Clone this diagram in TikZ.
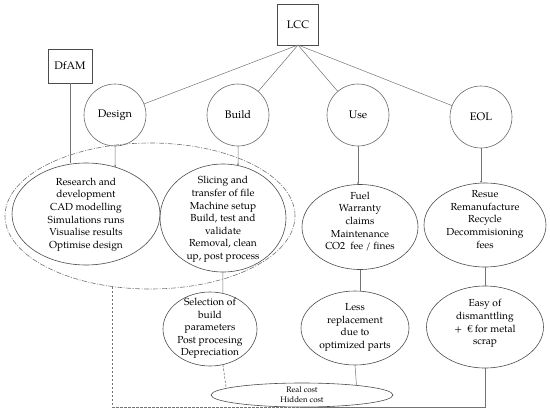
\documentclass[tikz,border=0pt]{standalone}
\usepackage{fontspec}
\setmainfont{TeX Gyre Pagella}
\usetikzlibrary{shapes.geometric,arrows.meta}
\begin{document}
\begin{tikzpicture}[x=1pt,y=-1pt,
  every node/.style={inner sep=0pt, outer sep=0pt},
  txt/.style={font=\fontsize{10.2}{12.6}\selectfont, align=center, text=black},
  box/.style={draw=black!70, line width=0.6pt, rectangle, font=\fontsize{11}{13}\selectfont},
  circ/.style={draw=black!60, line width=0.6pt, circle, minimum size=62pt, font=\fontsize{11}{13}\selectfont},
  ell/.style={draw=black!70, line width=0.6pt, ellipse},
  conn/.style={draw=black!55, line width=0.5pt},
  arr/.style={conn, -{Stealth[length=2.2pt,width=2pt]}},
  dashconn/.style={draw=black!55, line width=0.6pt, dash pattern=on 2.5pt off 1.5pt},
  dashdotconn/.style={draw=black!55, line width=0.6pt, dash pattern=on 5pt off 1.5pt on 1pt off 1.5pt},
]
\useasboundingbox (0,0) rectangle (550,413);
% top boxes
\node[box, minimum width=41pt, minimum height=41pt] (lcc) at (298,24.5) {LCC};
\node[box, minimum width=44pt, minimum height=34pt] (dfam) at (70,66) {DfAM};
% circles
\node[circ] (design) at (115,115) {Design};
\node[circ] (build) at (238,115) {Build};
\node[circ] (use) at (358,115) {Use};
\node[circ] (eol) at (481,117) {EOL};
% outer dash-dot ellipse
\node[ell, draw=black!55, dashdotconn, minimum width=290pt, minimum height=146pt] (outer) at (150,216) {};
% upper ellipses
\node[ell, minimum width=148pt, minimum height=102pt] (designE) at (86,214) {};
\node[txt] (designT) at (86,214.5) {Research and\\development\\CAD modelling\\Simulations runs\\Visualise results\\Optimise design};
\node[ell, minimum width=126pt, minimum height=108pt] (buildE) at (223,218) {};
\node[txt] (buildT) at (223,219.5) {Slicing and\\transfer of file\\Machine setup\\Build, test and\\validate\\Removal, clean\\up, post process};
\node[ell, minimum width=116pt, minimum height=85pt] (useE) at (360,227) {};
\node[txt] (useT) at (360,221.5) {Fuel\\Warranty\\claims\\Maintenance\\CO2~ fee / fines};
\node[ell, minimum width=122pt, minimum height=84pt] (eolE) at (485,225) {};
\node[txt] (eolT) at (485,219.5) {Resue\\Remanufacture\\Recycle\\Decommisioning\\fees};
% lower ellipses
\node[ell, minimum width=94pt, minimum height=74pt] (sel) at (210,329) {};
\node[txt] (selT) at (210,328.5) {Selection of\\build\\parameters\\Post procesing\\Depreciation};
\node[ell, minimum width=108pt, minimum height=74pt] (less) at (355,328) {};
\node[txt] (lessT) at (355,327.5) {Less\\replacement\\due to\\optimized parts};
\node[ell, minimum width=117pt, minimum height=82pt] (easy) at (485,327) {};
\node[txt] (easyT) at (485,323.5) {Easy of\\dismanttling\\+~ € for metal\\scrap};
\node[ell, minimum width=182pt, minimum height=24pt] (real) at (302,395) {};
\node[txt, font=\fontsize{8}{10}\selectfont] (realT) at (302,394.5) {Real cost\\Hidden cost};
% connectors from LCC
\draw[conn] (lcc.south) -- (design);
\draw[conn] (lcc.south) -- (build);
\draw[conn] (lcc.south) -- (use);
\draw[conn] (lcc.south) -- (eol);
% DfAM
\draw[conn] (dfam.south) -- (dfam.south |- designE.north);
% circles to ellipses
\draw[arr] (design.south) -- (designE.58.3);
\draw[arr] (build.south) -- (buildE.74);
\draw[arr] (use.south) -- (useE.north -| use.south);
\draw[arr] (eol.south) -- (eolE.north -| eol.south);
% upper to lower
\draw[conn] (buildE.south) -- (sel.70);
\draw[conn] (useE.south) -- (useE.south |- less.north);
\draw[conn] (eolE.south) -- (easy.north);
% to real cost
\draw[dashconn] (sel.-70) -- (real.175.7);
\draw[conn] (less.south) -- (real.10.4);
\draw[conn] (easy.south) |- (real.south);
\draw[dashconn] (outer.-118.4) |- (real.south);
\end{tikzpicture}
\end{document}
